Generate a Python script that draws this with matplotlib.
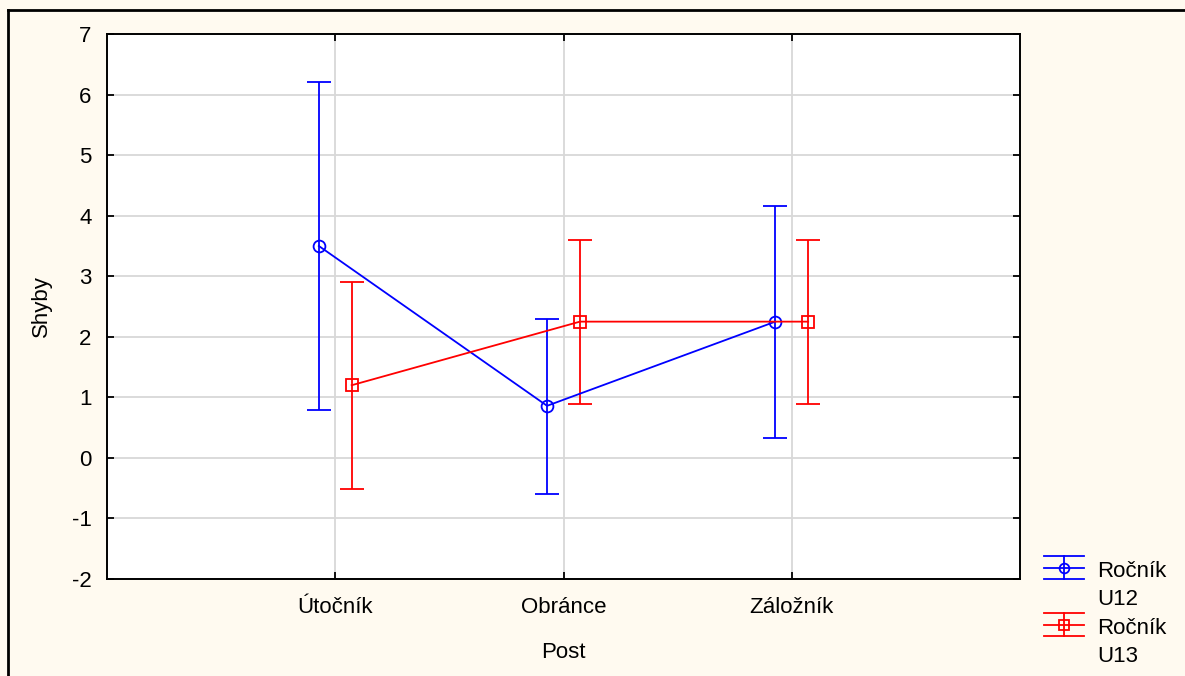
import numpy as np
import matplotlib
matplotlib.use("Agg")
import matplotlib.pyplot as plt
from matplotlib.lines import Line2D
from matplotlib.legend_handler import HandlerBase

plt.rcParams['font.family'] = ['Liberation Sans', 'DejaVu Sans']
plt.rcParams['axes.unicode_minus'] = False

# data
posts = ['Útočník', 'Obránce', 'Záložník']
u12_mean = [3.50, 0.86, 2.25]
u12_low = [0.79, -0.60, 0.33]
u12_high = [6.21, 2.30, 4.16]
u13_mean = [1.20, 2.25, 2.25]
u13_low = [-0.52, 0.89, 0.89]
u13_high = [2.90, 3.60, 3.60]
series_names = ['Ročník\nU12', 'Ročník\nU13']

FS = 16
bg = '#fffaf0'


class ErrHandler(HandlerBase):
    # legend key like the one in the original: three wide bars + vertical line + marker
    def create_artists(self, legend, orig_handle, xdescent, ydescent,
                       width, height, fontsize, trans):
        c = orig_handle.get_color()
        m = orig_handle.get_marker()
        x0, x1 = -xdescent, -xdescent + width
        xm = (x0 + x1) / 2
        yc = -ydescent + height / 2 + 0.8 * fontsize
        h = 0.52 * fontsize
        arts = []
        for yy in (yc - h, yc, yc + h):
            arts.append(Line2D([x0, x1], [yy, yy], color=c, lw=1.3, transform=trans))
        arts.append(Line2D([xm, xm], [yc - h, yc + h], color=c, lw=1.3, transform=trans))
        arts.append(Line2D([xm], [yc], marker=m, markersize=7, markerfacecolor='none',
                           markeredgecolor=c, markeredgewidth=1.3, transform=trans))
        return arts


fig = plt.figure(figsize=(11.85, 6.76), dpi=100, facecolor=bg)
ax = fig.add_axes([107/1185, 1 - 579/676, (1020-107)/1185, (579-34)/676])
ax.set_facecolor('white')

x = np.arange(1, len(posts) + 1)
off = 0.072

def draw(xs, mean, low, high, color, marker):
    mean = np.array(mean)
    err = [mean - np.array(low), np.array(high) - mean]
    ax.errorbar(xs, mean, yerr=err, color=color, marker=marker, markersize=8.5,
                markerfacecolor='none', markeredgewidth=1.3, linewidth=1.3,
                elinewidth=1.3, capsize=8.5, capthick=1.3, zorder=3)

draw(x - off, u12_mean, u12_low, u12_high, '#0000ff', 'o')
draw(x + off, u13_mean, u13_low, u13_high, '#ff0000', 's')

ax.set_xlim(0, 4)
ax.set_ylim(-2, 7)
ax.set_xticks(x)
ax.set_xticklabels(posts)
ax.set_yticks(range(-2, 8))
ax.grid(True, color='#d8d8d8', linewidth=1.3, zorder=0)
ax.set_axisbelow(True)
ax.tick_params(direction='in', top=True, right=True, length=5, width=1.3,
               labelsize=FS)
ax.tick_params(axis='x', pad=13)
ax.tick_params(axis='y', pad=11)
for s in ax.spines.values():
    s.set_linewidth(1.4)
ax.set_xlabel('Post', fontsize=FS, labelpad=17)
ax.set_ylabel('Shyby', fontsize=FS, labelpad=14)

proxies = [Line2D([], [], color='#0000ff', marker='o'),
           Line2D([], [], color='#ff0000', marker='s')]
leg = fig.legend(proxies, series_names, loc='upper left',
                 bbox_to_anchor=(1044/1185, 1 - 561/676),
                 frameon=False, fontsize=FS, handlelength=1.8,
                 handletextpad=0.6, borderpad=0, borderaxespad=0,
                 labelspacing=0.35, handler_map={Line2D: ErrHandler()})
for t in leg.get_texts():
    t.set_linespacing(1.43)

# outer frame (only top and left edges are visible in the original)
fig.add_artist(Line2D([8/1185, 1], [1 - 10/676, 1 - 10/676], color='black', linewidth=2, transform=fig.transFigure))
fig.add_artist(Line2D([8/1185, 8/1185], [0, 1 - 10/676], color='black', linewidth=2, transform=fig.transFigure))

fig.savefig('out.png', dpi=100, facecolor=bg)
